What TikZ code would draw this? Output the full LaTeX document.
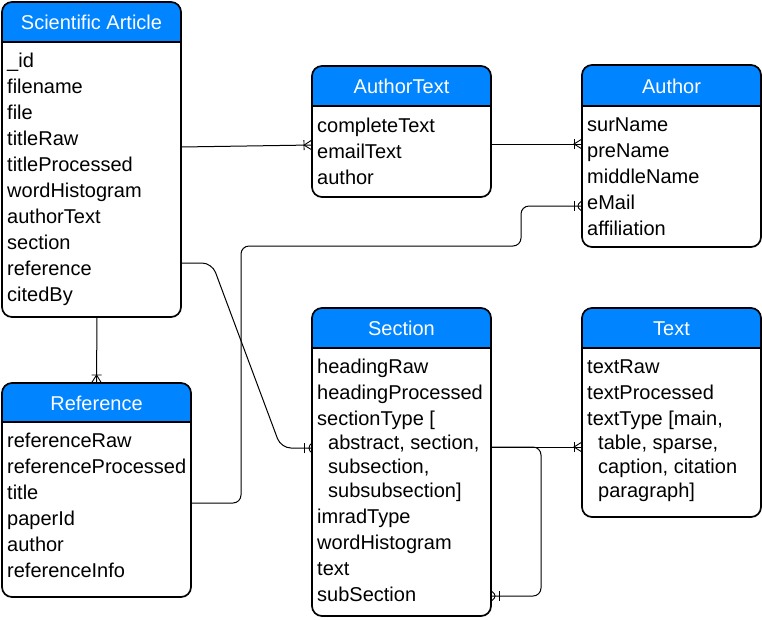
\documentclass[tikz,border=0pt]{standalone}
\usepackage{fontspec}
\setmainfont{Liberation Sans}
\usetikzlibrary{calc,decorations.markings}
\definecolor{hdrblue}{RGB}{0,132,255}
\tikzset{
  hdr/.style={fill=hdrblue},
  border/.style={draw=black,line width=1.7pt},
  titletext/.style={text=white,inner sep=0,font=\fontsize{20}{24}\selectfont},
  rowtext/.style={anchor=base west,inner sep=0,font=\fontsize{20}{24}\selectfont},
  conn/.style={draw=black,line width=1pt},
  crow/.style={postaction={decorate},decoration={markings,mark=at position 1 with {%
    \draw[line width=0.9pt] (-8pt,-5pt) -- (-8pt,5pt);
    \draw[line width=0.9pt] (0pt,5pt) -- (-8pt,0pt) -- (0pt,-5pt);}}}
}
\newcommand\erent[7]{%
  \node[draw=none,inner sep=0,outer sep=0,minimum width={#4-#2},minimum height={#5-#3},anchor=north west] (#1) at (#2,#3) {};
  \begin{scope}
    \clip[rounded corners=10pt] (#1.north west) rectangle (#1.south east);
    \fill[hdr] (#1.north west) rectangle (#4,#6);
  \end{scope}
  \draw[border] (#2,#6) -- (#4,#6);
  \draw[border,rounded corners=10pt] (#1.north west) rectangle (#1.south east);
  \node[titletext,anchor=base] (#1-t) at ({(#2+#4)/2},{(#3+#6)/2+7.5}) {#7};
}
\newcommand\erows[4]{%
  \foreach \t [count=\i] in {#4} {\node[rowtext] (#1\i) at (#2,{#3+26*(\i-1)}) {\t};}
}
\begin{document}
\begin{tikzpicture}[x=1pt,y=-1pt]
\useasboundingbox (0,0) rectangle (762,619);
% entities
\erent{sa}{2}{2}{181}{317}{42}{Scientific Article}
\erows{sar}{7}{67}{\_id,filename,file,titleRaw,titleProcessed,wordHistogram,authorText,section,reference,citedBy}
\erent{at}{312}{66}{491}{197}{106}{AuthorText}
\erows{atr}{317}{132}{completeText,emailText,author}
\erent{au}{582}{65}{761}{247}{106}{Author}
\erows{aur}{587}{131}{surName,preName,middleName,eMail,affiliation}
\erent{ref}{2}{383}{191}{597}{422}{Reference}
\erows{refr}{7}{447}{referenceRaw,referenceProcessed,title,paperId,author,referenceInfo}
\erent{sec}{312}{308}{491}{616}{348}{Section}
\node[rowtext] (secr1) at (317,373) {headingRaw};
\node[rowtext] (secr2) at (317,399) {headingProcessed};
\node[rowtext] (secr3) at (317,425) {sectionType [};
\node[rowtext] (secr4) at (328,449) {abstract, section,};
\node[rowtext] (secr5) at (328,473) {subsection,};
\node[rowtext] (secr6) at (328,497) {subsubsection]};
\node[rowtext] (secr7) at (317,523) {imradType};
\node[rowtext] (secr8) at (317,549) {wordHistogram};
\node[rowtext] (secr9) at (317,575) {text};
\node[rowtext] (secr10) at (317,601) {subSection};
\erent{tx}{582}{308}{761}{517}{348}{Text}
\node[rowtext] (txr1) at (587,373) {textRaw};
\node[rowtext] (txr2) at (587,399) {textProcessed};
\node[rowtext] (txr3) at (587,425) {textType [main,};
\node[rowtext] (txr4) at (598,449) {table, sparse,};
\node[rowtext] (txr5) at (598,473) {caption, citation};
\node[rowtext] (txr6) at (598,497) {paragraph]};
% connectors
\draw[conn,crow] ($(sa.north east)+(0,145)$) -- ($(at.north west)+(0,79)$);
\draw[conn,crow] ($(at.north east)+(0,78)$) -- ($(au.north west)+(0,79)$);
\draw[conn,crow,rounded corners=10pt] ($(sa.north east)+(0,261)$) -- ($(sa.north east)+(31,261)$)
   -- ($(sec.north west)+(-31,140)$) -- ($(sec.north west)+(0,140)$);
\draw[conn,crow,rounded corners=8pt] ($(ref.north east)+(0,120)$) -- ($(ref.north east)+(50,120)$)
   -- ($(ref.north east)+(50,-137)$) -- ($(au.north west)+(-61,181)$) -- ($(au.north west)+(-61,141)$)
   -- ($(au.north west)+(0,141)$);
\draw[conn,crow] ($(sa.south)+(5.5,0)$) -- ($(ref.north)+(0,0)$);
\draw[conn,crow] ($(sec.north east)+(0,139)$) -- ($(tx.north west)+(0,139)$);
\draw[conn,crow,rounded corners=8pt] ($(sec.north east)+(0,139)$) -- ($(sec.north east)+(50,139)$)
   -- ($(sec.north east)+(50,288)$) -- ($(sec.north east)+(0,288)$);
\end{tikzpicture}
\end{document}
